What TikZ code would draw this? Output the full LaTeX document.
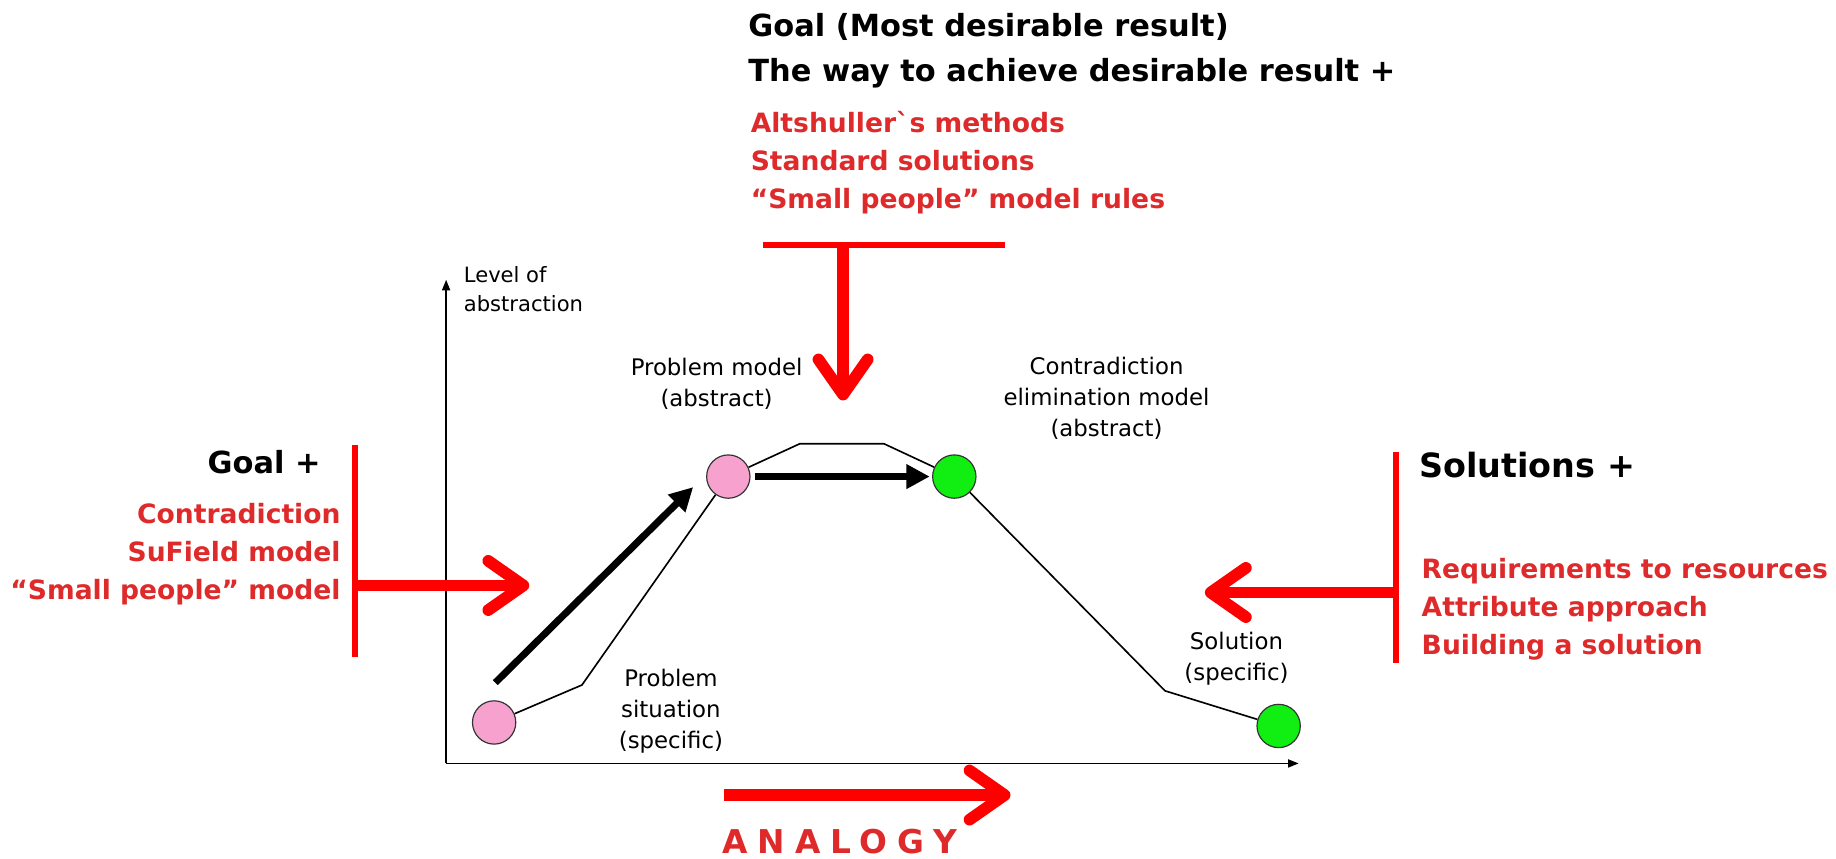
\documentclass[tikz,border=0pt]{standalone}
\usepackage{fontspec}
\setmainfont{DejaVu Sans}
\usetikzlibrary{arrows.meta}
\definecolor{barred}{HTML}{FF0000}
\definecolor{txtred}{HTML}{DE2A2A}
\definecolor{pinkc}{HTML}{F7A1CF}
\definecolor{greenc}{HTML}{11EE11}
\tikzset{
  redbar/.style={draw=barred, line width=5pt},
  redarrow/.style={draw=barred, line width=10pt, -{Straight Barb[length=30pt,width=42pt,round]}},
  circ/.style={circle, draw=black!80, line width=1pt, minimum size=37pt, inner sep=0pt},
  thinpath/.style={line width=1.4pt, line join=miter},
  bigblack/.style={line width=6pt, -{Triangle[length=20pt,width=20pt]}},
  axis/.style={line width=1.1pt, -{Triangle[length=9pt,width=7pt]}},
  lbl/.style={font=\fontsize{19.5}{26.5}\selectfont, align=center, inner sep=0pt},
  head/.style={font=\bfseries\fontsize{26}{38.6}\selectfont, inner sep=0pt, align=left},
  redtxt/.style={font=\bfseries\fontsize{22.7}{32.5}\selectfont, text=txtred, inner sep=0pt},
}
\begin{document}
\begin{tikzpicture}[x=1pt,y=-1pt]
\useasboundingbox (0,0) rectangle (1568,733);
% axes
\coordinate (orig) at (381,652);
\coordinate (ytop) at (381,239);
\coordinate (xend) at (1109,652);
\draw[axis] (orig) -- (ytop);
\draw[axis] (orig) -- (xend);
\node[lbl, font=\fontsize{18}{25}\selectfont, align=left, anchor=base west] (yl) at (396,266) {Level of\\abstraction};
% circles
\node[circ,fill=pinkc] (ps) at (422,617) {};
\node[circ,fill=pinkc] (pm) at (622,407) {};
\node[circ,fill=greenc] (cem) at (815,407) {};
\node[circ,fill=greenc] (sol) at (1092,620) {};
% thin path
\coordinate (k1) at (497,585);
\coordinate (k2) at (683,379);
\coordinate (k3) at (755,379);
\coordinate (k4) at (995,590);
\draw[thinpath] (ps) -- (k1) -- (pm);
\draw[thinpath] (pm) -- (k2) -- (k3) -- (cem);
\draw[thinpath] (cem) -- (k4) -- (sol);
% thick arrows
\coordinate (d1) at (423,583);
\coordinate (d2) at (592,416);
\draw[bigblack] (d1) -- (d2);
\draw[bigblack, shorten <=4pt, shorten >=2pt] (pm) -- (cem);
% labels
\node[lbl, anchor=base] (lpm) at (612,347) {Problem model\\(abstract)};
\node[lbl, anchor=base] (lcem) at (945,373) {Contradiction\\elimination model\\(abstract)};
\node[lbl, anchor=base] (lps) at (573,639) {Problem\\situation\\(specific)};
\node[lbl, anchor=base] (lsol) at (1056,581) {Solution\\(specific)};
% top
\node[head, anchor=base west] (gtop) at (639,70) {Goal (Most desirable result)\\The way to achieve desirable result +};
\node[redtxt, align=left, anchor=base west] (rtop) at (641,178) {Altshullerˋs methods\\Standard solutions\\“Small people” model rules};
\coordinate (tb1) at (652,209);
\coordinate (tb2) at (858,209);
\coordinate (tbm) at (720,209);
\coordinate (tbt) at (720,342);
\draw[redbar] (tb1) -- (tb2);
\draw[redarrow] (tbm) -- (tbt);
% left
\node[head, font=\bfseries\fontsize{26}{32}\selectfont, anchor=base east] (gl) at (274,404) {Goal +};
\node[redtxt, align=right, anchor=base east] (rl) at (291,512) {Contradiction\\SuField model\\“Small people” model};
\coordinate (lb1) at (303,380);
\coordinate (lb2) at (303,561);
\coordinate (lbm) at (303,500);
\coordinate (lbt) at (452,500);
\draw[redbar] (lb1) -- (lb2);
\draw[redarrow] (lbm) -- (lbt);
% right
\node[head, font=\bfseries\fontsize{28.5}{34}\selectfont, anchor=base west] (gr) at (1212,408) {Solutions +};
\node[redtxt, align=left, anchor=base west] (rr) at (1214,559) {Requirements to resources\\Attribute approach\\Building a solution};
\coordinate (rb1) at (1192,386);
\coordinate (rb2) at (1192,566);
\coordinate (rbm) at (1192,506);
\coordinate (rbt) at (1029,506);
\draw[redbar] (rb1) -- (rb2);
\draw[redarrow] (rbm) -- (rbt);
% bottom
\coordinate (ba1) at (618,679);
\coordinate (ba2) at (863,679);
\draw[redarrow] (ba1) -- (ba2);
\node[anchor=base west, inner sep=0pt, text=txtred, font=\bfseries\fontsize{28}{34}\selectfont\addfontfeature{LetterSpace=30}] (an) at (617,729) {ANALOGY};
\end{tikzpicture}
\end{document}
